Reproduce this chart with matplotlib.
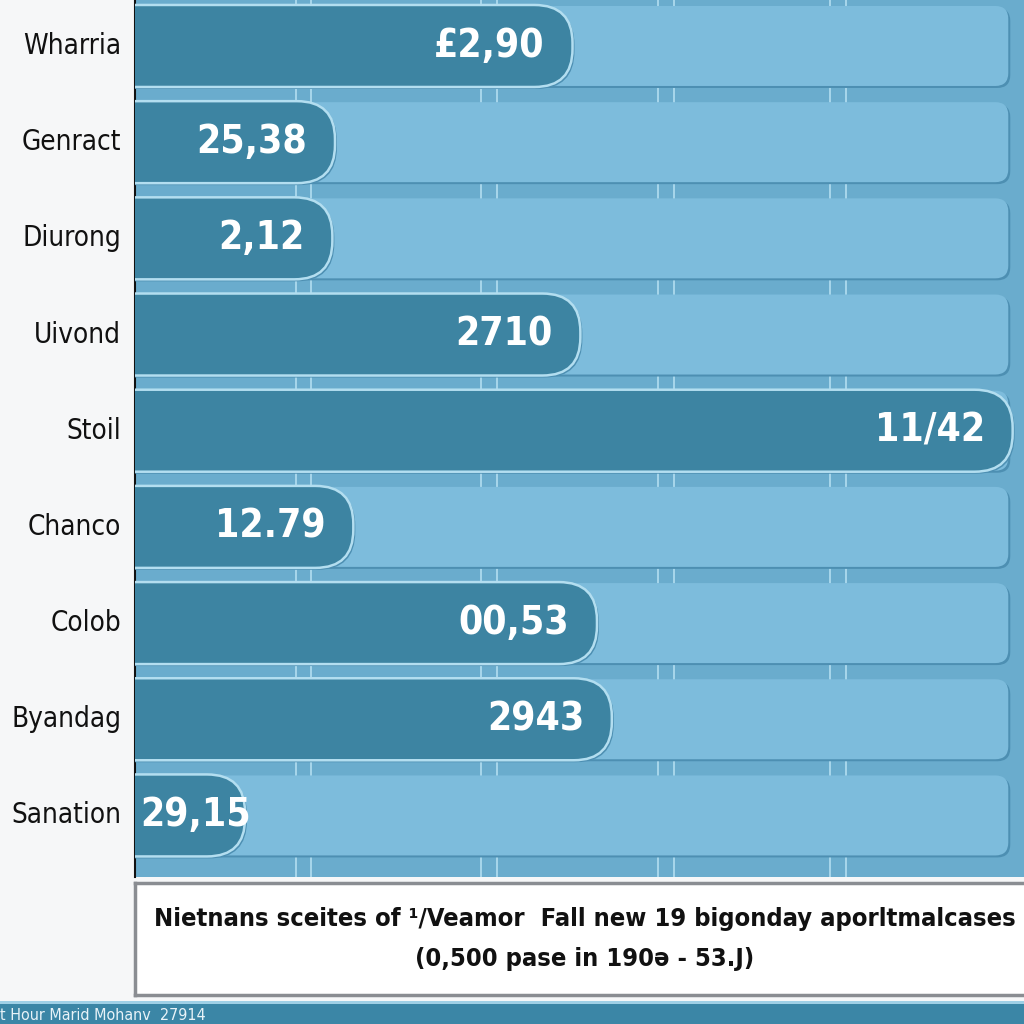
import matplotlib.pyplot as plt
import matplotlib.transforms as mtransforms
from matplotlib import font_manager as fm
from matplotlib.patches import FancyBboxPatch, Rectangle

# data
names = ["Wharria", "Genract", "Diurong", "Uivond", "Stoil",
         "Chanco", "Colob", "Byandag", "Sanation"]
values = [50.1, 22.9, 22.6, 51.0, 100.5, 25.0, 52.9, 54.6, 12.6]
labels = ["£2,90", "25,38", "2,12", "2710", "11/42",
          "12.79", "00,53", "2943", "29,15"]
grid_x = [19.3, 40.5, 60.8, 80.5]
caption = "Nietnans sceites of \u00b9/Veamor  Fall new 19 bigonday aporltmalcases\n(0,500 pase in 190\u0259 - 53.J)"
footer = "t Hour Marid Mohanv  27914"

dark = "#3d84a2"
track = "#7dbcdc"
bg = "#6aaccd"
shadow = "#4d8fb2"
light = "#b3def0"


# look for a condensed face, else Liberation Sans
def find_font(bold):
    for f in fm.fontManager.ttflist:
        n = f.fname.lower()
        if ("condensed" in n or "narrow" in n) and ("bold" in n) == bold \
                and "italic" not in n and "oblique" not in n and "mono" not in n:
            return f.fname
    return None


reg_path = find_font(False)
bold_path = find_font(True)
if reg_path and bold_path:
    f_lab = fm.FontProperties(fname=reg_path, size=20)
    f_val = fm.FontProperties(fname=bold_path, size=28)
    f_cap = fm.FontProperties(fname=bold_path, size=18.3)
    f_foot = fm.FontProperties(fname=reg_path, size=11.5)
else:
    f_lab = fm.FontProperties(family="Liberation Sans", size=22)
    f_val = fm.FontProperties(family="Liberation Sans", weight="bold", size=29)
    f_cap = fm.FontProperties(family="Liberation Sans", weight="bold", size=17.3)
    f_foot = fm.FontProperties(family="Liberation Sans", size=10.5)

fig = plt.figure(figsize=(10.24, 10.24), dpi=100)
fig.patch.set_facecolor("#f6f7f8")

W = 1024.0
ax = fig.add_axes([135 / W, 1 - 877 / W, (W - 135) / W, 877 / W])
ax.set_facecolor(bg)
ax.set_xlim(0, 101.8)
ax.set_ylim(8.64, -0.478)
ax.set_xticks([])
ax.set_yticks([])
for s in ["top", "right", "bottom"]:
    ax.spines[s].set_visible(False)
ax.spines["left"].set_color("#111111")
ax.spines["left"].set_linewidth(1.5)

# pixel size in data units
px_x = 101.8 / (W - 135)
px_y = (8.64 + 0.478) / 877
aspect = px_y / px_x

for gx in grid_x:
    ax.axvline(gx - 0.9, color=light, lw=1.2, zorder=1)
    ax.axvline(gx + 0.9, color=light, lw=1.2, zorder=1)

h_track = 80 * px_y
h_bar = 82 * px_y
sh = mtransforms.offset_copy(ax.transData, fig=fig, x=2, y=-2, units="dots")

val_texts = []
for i, (v, lab) in enumerate(zip(values, labels)):
    # background track
    for tr, col in [(sh, shadow), (ax.transData, track)]:
        p = FancyBboxPatch((-3, i - h_track / 2), 100 + 3, h_track,
                           boxstyle="round,pad=0,rounding_size=%f" % (13 * px_x),
                           mutation_aspect=aspect, fc=col, ec="none",
                           transform=tr, zorder=2)
        ax.add_patch(p)
    # value bar
    for tr, col, ec in [(sh, shadow, "none"), (ax.transData, dark, light)]:
        p = FancyBboxPatch((-8, i - h_bar / 2), v + 8, h_bar,
                           boxstyle="round,pad=0,rounding_size=%f" % (38 * px_x),
                           mutation_aspect=aspect, fc=col, ec=ec, lw=1.8,
                           transform=tr, zorder=3)
        ax.add_patch(p)
    t = ax.annotate(lab, (v, i), xytext=(-20, 0), textcoords="offset points",
                    ha="right", va="center", color="white",
                    fontproperties=f_val, zorder=5)
    val_texts.append(t)
    ax.text(-1.6, i, names[i], ha="right", va="center", fontproperties=f_lab,
            color="#111111", clip_on=False)

# keep value labels inside the plot on the left
r = fig.canvas.get_renderer()
for t in val_texts:
    bb = t.get_window_extent(r)
    x0_min = 140
    if bb.x0 < x0_min:
        dx = (x0_min - bb.x0) * 72 / fig.dpi
        t.set_position((t.xyann[0] + dx, t.xyann[1]))

# caption box
cap = fig.add_axes([135 / W, 1 - 995 / W, (W - 133) / W, 112 / W])
cap.set_xticks([])
cap.set_yticks([])
cap.set_facecolor("white")
for s in cap.spines.values():
    s.set_color("#8a8d92")
    s.set_linewidth(2.5)
cap.text(0.505, 0.5, caption, ha="center", va="center", fontproperties=f_cap,
         color="#111111", linespacing=1.8, transform=cap.transAxes)

# footer strip
fig.patches.append(Rectangle((0, 0), 1, 20 / W, transform=fig.transFigure,
                             fc="#3b86a6", ec="none"))
fig.patches.append(Rectangle((0, 20 / W), 1, 3 / W, transform=fig.transFigure,
                             fc="#9fd0e6", ec="none"))
fig.text(0, 9 / W, footer, ha="left", va="center", fontproperties=f_foot,
         color="#e8f3f8")

fig.savefig("out.png", dpi=100, facecolor=fig.get_facecolor())
